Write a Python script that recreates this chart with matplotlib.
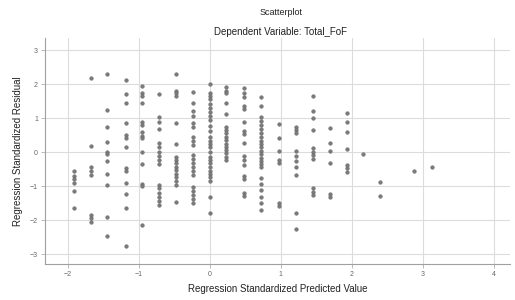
import numpy as np
import matplotlib
matplotlib.use("Agg")
import matplotlib.pyplot as plt

plt.rcParams['font.family'] = ['Liberation Sans', 'DejaVu Sans']

# predicted value of each column of points, and the residuals read in that column
col_x = [-1.915, -1.676, -1.437, -1.183, -0.958, -0.718, -0.479, -0.239, 0.0,
         0.239, 0.479, 0.718, 0.972, 1.211, 1.451, 1.690, 1.930, 2.155, 2.408,
         2.887, 3.127]
col_res = [
    [-0.55, -0.71, -0.80, -0.92, -1.15, -1.64],
    [2.19, 0.18, -0.43, -0.55, -0.68, -1.85, -1.95, -2.05],
    [2.29, 1.24, 0.73, 0.30, 0.01, -0.06, -0.26, -0.63, -0.98, -1.90, -2.47],
    [2.12, 1.71, 1.43, 0.86, 0.50, 0.40, 0.14, -0.48, -0.56, -0.92, -1.22,
     -1.64, -2.75],
    [1.94, 1.73, 1.65, 1.43, 0.89, 0.79, 0.60, 0.47, 0.40, 0.01, -0.35,
     -0.94, -1.0, -2.15],
    [1.70, 1.02, 0.89, 0.67, 0.26, 0.14, 0.01, -0.12, -0.24, -0.35, -0.97,
     -1.07, -1.20, -1.31, -1.43, -1.56],
    [2.29, 1.80, 1.73, 1.65, 0.86, 0.23, -0.14, -0.24, -0.33, -0.43, -0.53,
     -0.63, -0.73, -0.84, -0.97, -1.46],
    [1.77, 1.43, 1.21, 1.06, 0.86, 0.74, 0.43, 0.33, 0.21, -0.09, -0.19,
     -0.33, -0.43, -0.55, -0.68, -1.02, -1.14, -1.26, -1.39, -1.51],
    [2.0, 1.74, 1.65, 1.55, 1.41, 1.31, 1.19, 1.06, 0.94, 0.76, 0.63, 0.43,
     0.33, 0.24, 0.14, 0.01, -0.14, -0.24, -0.33, -0.43, -0.55, -0.65,
     -0.74, -0.84, -1.31, -1.80],
    [1.90, 1.80, 1.73, 1.45, 1.12, 0.74, 0.65, 0.55, 0.45, 0.35, 0.25, 0.16,
     0.06, -0.04, -0.14, -0.24],
    [1.87, 1.73, 1.63, 1.35, 1.28, 0.89, 0.63, 0.53, 0.26, -0.12, -0.24,
     -0.38, -0.71, -0.80, -1.20, -1.29],
    [1.63, 1.35, 1.02, 0.92, 0.79, 0.67, 0.55, 0.43, 0.33, 0.24, 0.14, 0.04,
     -0.06, -0.16, -0.26, -0.35, -0.45, -0.77, -0.94, -1.12, -1.31, -1.49,
     -1.71],
    [0.82, 0.40, 0.04, -0.24, -0.31, -1.49, -1.59],
    [0.74, 0.65, 0.57, 0.04, -0.12, -0.26, -0.43, -0.68, -1.80, -2.27],
    [1.65, 1.21, 0.99, 0.65, 0.11, 0.01, -0.09, -0.19, -1.07, -1.17, -1.26],
    [0.70, 0.27, 0.04, -0.31, -1.22, -1.33],
    [1.16, 0.89, 0.60, 0.08, -0.38, -0.48, -0.58],
    [-0.06],
    [-0.88, -1.29],
    [-0.56],
    [-0.44],
]
x_ticks = [-2, -1, 0, 1, 2, 3, 4]
y_ticks = [-3, -2, -1, 0, 1, 2, 3]

pred = np.concatenate([[x] * len(r) for x, r in zip(col_x, col_res)])
resid = np.concatenate(col_res)

fig = plt.figure(figsize=(5.15, 3.0), dpi=100)
ax = fig.add_axes([0.087, 0.12, 0.903, 0.753])

ax.scatter(pred, resid, s=7, color='#7a7a7a', edgecolors='#666666',
           linewidths=0.3, zorder=3)

ax.set_xlim(-2.32, 4.23)
ax.set_ylim(-3.29, 3.35)
ax.set_xticks(x_ticks)
ax.set_yticks(y_ticks)
ax.grid(True, color='#dcdcdc', linewidth=0.8, zorder=0)
ax.set_axisbelow(True)

for side in ['top', 'right']:
    ax.spines[side].set_visible(False)
for side in ['left', 'bottom']:
    ax.spines[side].set_color('#a0a0a0')
    ax.spines[side].set_linewidth(0.8)
ax.tick_params(length=3, width=0.6, color='#b0b0b0', labelsize=5,
               labelcolor='#666666', pad=2)

ax.set_xlabel('Regression Standardized Predicted Value', fontsize=7,
              color='#222222', labelpad=4)
ax.set_ylabel('Regression Standardized Residual', fontsize=7,
              color='#222222', labelpad=5)

fig.text(0.545, 0.957, 'Scatterplot', ha='center', va='center',
         fontsize=6.5, color='#222222')
fig.text(0.545, 0.893, 'Dependent Variable: Total_FoF', ha='center',
         va='center', fontsize=7, color='#222222')

fig.savefig('out.png', dpi=100)
